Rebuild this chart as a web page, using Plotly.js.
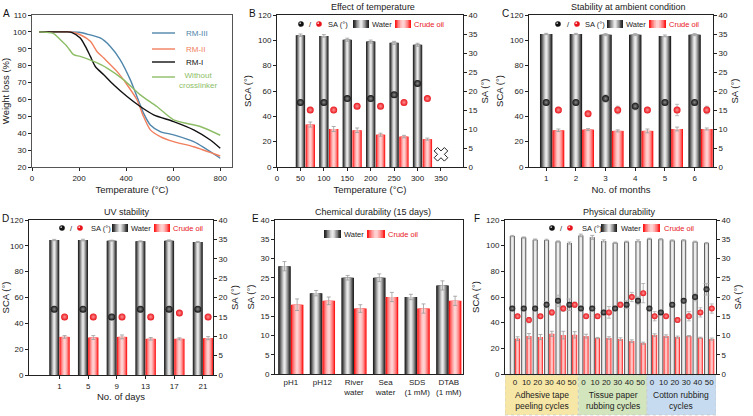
<!DOCTYPE html>
<html><head><meta charset="utf-8">
<script src="https://cdn.plot.ly/plotly-3.0.1.min.js"></script>
<style>html,body{margin:0;padding:0;background:#fff}#chart{width:753px;height:416px}</style>
</head><body><div id="chart"></div>
<script>
// ================= DATA =================
// A: TGA curves
const rm3Temp=[30,100,150,200,234,290,333,375,418,446,474,503,545,602,687,800];
const rm3Loss=[100,100,100,99.8,98.7,96.4,91.4,83.5,71.6,61.7,51.9,44.9,41,39,35,25.2];
const rm2Temp=[30,100,163,205,248,276,305,361,404,446,474,503,545,602,687,800];
const rm2Loss=[100,100,100,98.3,94.4,88.4,84.5,76.6,68.7,59.8,49.9,42,38,35,32,26.5];
const rm1Temp=[30,100,149,170,205,227,248,269,305,347,404,460,517,602,687,758,800];
const rm1Loss=[100,100,100,99.6,96.4,91.4,85.5,79.5,74.6,68.7,61.7,55.8,50.9,46.9,42,36,31.1];
const noxTemp=[30,92,120,149,177,205,262,319,390,460,531,602,715,800];
const noxLoss=[100,99,95.4,91.4,86.5,85.5,82.5,78.6,71.6,62.7,55.8,47.9,44,38.8];
const seriesNamesA=['RM-III','RM-II','RM-I','Without<br>crosslinker'];

// B: effect of temperature
const tempB=[50,100,150,200,250,300];
const waterSCA_B=[104,103.5,100.5,99,98,96.5];
const waterSCAerr_B=[1,1,1.2,1.2,1.2,1.2];
const oilSCA_B=[33.5,30,29,25.5,24,22];
const oilSCAerr_B=[2,2,1.8,1.2,1,0.8];
const waterSA_B=[17,17,18,18,19,22];
const oilSA_B=[15,15,16,16,17,18];
const failTemp_B=[350];
const failSCA_B=[10];

// C: ambient stability
const months=[1,2,3,4,5,6];
const waterSCA_C=[105,105,104.5,104.5,103.5,104.5];
const waterSCAerr_C=[0.5,0.5,0.8,0.8,0.7,0.8];
const oilSCA_C=[29,29.5,28.5,28.5,30,30];
const oilSCAerr_C=[1,0.8,0.8,1.5,1.5,0.8];
const waterSA_C=[17,17,18,16,17,17];
const waterSAerr_C=[0,0,1,1,0,0];
const oilSA_C=[15,14,15,15,15,15];
const oilSAerr_C=[0.5,0.5,1,0.5,1.5,1];

// D: UV stability
const days=['1','5','9','13','17','21'];
const waterSCA_D=[104.5,104.5,104,103.5,104,103];
const waterSCAerr_D=[0.5,0.6,0.4,0.4,0.6,0.4];
const oilSCA_D=[29.5,29,29.5,28,28,28.5];
const oilSCAerr_D=[1,1.5,1.5,1,0.8,1.2];
const waterSA_D=[17,17,15,17,17,17];
const oilSA_D=[15,15,15,15,16,15];

// E: chemical durability
const media=['pH1','pH12','River<br>water','Sea<br>water','SDS<br>(1 mM)','DTAB<br>(1 mM)'];
const waterSA_E=[28,21,25,25,20,23];
const waterSAerr_E=[1.2,0.7,0.6,1,0.7,1.2];
const oilSA_E=[18,19,17,20,17,19];
const oilSAerr_E=[1.5,1,1,1.2,1.2,1.2];

// F: physical durability
const cycles=['0','10','20','30','40','50','0','10','20','30','40','50','0','10','20','30','40','50'];
const groupsF=['Adhesive tape<br>peeling cycles','Tissue paper<br>rubbing cycles','Cotton rubbing<br>cycles'];
const waterSCA_F=[107.5,106.3,104.7,104.5,103.2,102,108,106.5,103.7,102.2,103,103.7,105.3,105,104,104.2,103,102];
const waterSCAerr_F=[0.5,0.5,0.5,0.5,0.5,0.8,1,1.5,0.8,0.5,0.5,0.8,0.5,0.5,0.5,0.5,0.5,0.5];
const oilSCA_F=[27.5,29.5,28.8,31.3,30.3,30.5,29.5,28,28,27.2,25.6,24,30.3,29.5,28.7,29.5,28.2,27.2];
const oilSCAerr_F=[1.5,2,2,2,3,2.5,1.5,0.5,1,1,1,0.8,1,1,0.8,0.5,0.5,0.8];
const waterSA_F=[17,17,17,18,19,18,17,17,16,17,18,19,17,16,18,19,20,22];
const waterSAerr_F=[0.5,0.5,0.5,0.8,1.5,1.5,0.5,0.5,0.5,0.5,1,1,0.3,0.3,0.5,0.5,1,1.5];
const oilSA_F=[15,14,15,16,17,18,15,15,16,18,20,21,15,15,14,15,16,17];
const oilSAerr_F=[0.3,0.7,0.3,0.7,0.7,0.7,0.3,0.3,1.5,0.7,1.2,2.5,1.2,0.3,0.5,1.2,1.2,1.2];

// ================= STYLE / HELPERS =================
const W=753,H=416;
const fx=v=>v/W, fy=v=>1-v/H;
const dom=(a,b)=>[a/W,b/W];
const domY=(top,bot)=>[1-bot/H,1-top/H];
const FONT='Arial, "Liberation Sans", sans-serif';
const RED='#e8141b';
const traces=[],shapes=[],annotations=[];
const waterLayers=[{f:1,c:'#232323'},{f:0.82,c:'#4d4d4d'},{f:0.64,c:'#7e7e7e'},{f:0.46,c:'#ababab'},{f:0.28,c:'#d2d2d2'},{f:0.12,c:'#eaeaea'}];
const oilLayers=[{f:1,c:'#ff1a1a'},{f:0.8,c:'#ff5c5c'},{f:0.6,c:'#ff8d8d'},{f:0.4,c:'#ffb3b3'},{f:0.2,c:'#ffd0d0'}];
const waterLayersThin=[{f:1,c:'#444'},{f:0.7,c:'#bdbdbd'},{f:0.45,c:'#ececec'}];
const oilLayersThin=[{f:1,c:'#f22'},{f:0.7,c:'#ff8a8a'},{f:0.4,c:'#ffc4c4'}];

function addBars(xs,ys,errs,width,layers,xa,ya){
  layers.forEach((L,i)=>{
    const t={type:'bar',x:xs,y:ys,width:width*L.f,xaxis:xa,yaxis:ya,
      marker:{color:L.c,line:{width:0}},showlegend:false,hoverinfo:'skip'};
    if(i===layers.length-1&&errs) t.error_y={type:'data',array:errs,visible:true,color:'#9a9a9a',thickness:0.8,width:2};
    traces.push(t);
  });
}
function addPoints(xs,ys,errs,color,grad,size,xa,ya,errW){
  const t={type:'scatter',mode:'markers',x:xs,y:ys,xaxis:xa,yaxis:ya,
    marker:{color:color,size:size,gradient:{type:'radial',color:grad},line:{width:0}},
    showlegend:false,hoverinfo:'skip'};
  if(errs) t.error_y={type:'data',array:errs,visible:true,color:'#aaaaaa',thickness:0.8,width:errW||2};
  traces.push(t);
}
const shift=(arr,off)=>arr.map(v=>v+off);
const idx=(arr,off)=>arr.map((_,i)=>i+off);

function txt(x,y,t,anchor,size,color,extra){
  return Object.assign({xref:'paper',yref:'paper',x:fx(x),y:fy(y),text:t,showarrow:false,
    xanchor:anchor||'left',yanchor:'middle',font:{family:FONT,size:size||7.5,color:color||'#222'}},extra||{});
}
function circle(cx,cy,r,c){return {type:'circle',xref:'paper',yref:'paper',x0:fx(cx-r),x1:fx(cx+r),y0:fy(cy+r),y1:fy(cy-r),fillcolor:c,line:{width:0}};}
function swatch(x0,x1,y,layers){
  const h=4,mid=(x0+x1)/2,w=x1-x0;
  layers.forEach(L=>shapes.push({type:'rect',xref:'paper',yref:'paper',x0:fx(mid-w*L.f/2),x1:fx(mid+w*L.f/2),y0:fy(y+h),y1:fy(y-h),fillcolor:L.c,line:{width:0}}));
}
function legendRow(sp,wat,oil,y){
  if(sp){
    shapes.push(circle(sp[0],y,2.8,'#111'),circle(sp[2],y,2.8,RED));
    shapes.push(circle(sp[0]-0.8,y-0.8,0.9,'#bbb'),circle(sp[2]-0.8,y-0.8,0.9,'#ffd0d0'));
    annotations.push(txt(sp[1],y,'/','center'),txt(sp[3],y,'SA (°)','left'));
  }
  swatch(wat[0],wat[1],y,waterLayers);
  annotations.push(txt(wat[2],y,'Water','left',7.5,'#222',{borderpad:0}));
  swatch(oil[0],oil[1],y,oilLayers);
  annotations.push(txt(oil[2],y,'Crude oil','left',7.5,RED,{borderpad:0}));
}

const axBase={showline:true,linecolor:'#222',linewidth:1,ticks:'outside',ticklen:3,tickwidth:1,tickcolor:'#222',tickangle:0,
  showgrid:false,zeroline:false,tickfont:{family:FONT,size:8,color:'#222'}};
function ax(o){return Object.assign({},axBase,o);}
function ttl(t,standoff,size){return {text:t,font:{family:FONT,size:size||9.5,color:'#222'},standoff:standoff||3};}

// ================= PANEL A =================
const colA=['#4f86ab','#f17f5e','#111111','#8dbd66'];
[[rm3Temp,rm3Loss],[rm2Temp,rm2Loss],[rm1Temp,rm1Loss],[noxTemp,noxLoss]].forEach((s,i)=>{
  traces.push({type:'scatter',mode:'lines',x:s[0],y:s[1],xaxis:'x',yaxis:'y',
    line:{color:colA[i],width:1.4,shape:'spline',smoothing:0.7},showlegend:false,hoverinfo:'skip'});
});
const legA=[33,49,62,77];
legA.forEach((y,i)=>{
  shapes.push({type:'line',xref:'paper',yref:'paper',x0:fx(152),x1:fx(175),y0:fy(y),y1:fy(y),line:{color:colA[i],width:1.4}});
});
annotations.push(txt(184,33,seriesNamesA[0],'left',8,colA[0]));
annotations.push(txt(184,49,seriesNamesA[1],'left',8,colA[1]));
annotations.push(txt(184,62,seriesNamesA[2],'left',8,colA[2]));
annotations.push(txt(198,80,seriesNamesA[3],'center',8,colA[3]));

// ================= PANEL B =================
addBars(tempB,waterSCA_B,waterSCAerr_B,20,waterLayers,'x2','y2');
addBars(shift(tempB,21),oilSCA_B,oilSCAerr_B,20,oilLayers,'x2','y2');
addPoints(tempB,waterSA_B,null,'#111','#8a8a8a',7,'x2','y3');
addPoints(shift(tempB,21),oilSA_B,null,RED,'#ff9090',7,'x2','y3');
traces.push({type:'scatter',mode:'markers',x:failTemp_B,y:failSCA_B,xaxis:'x2',yaxis:'y2',
  marker:{symbol:'x-open',size:12,color:'#222',line:{color:'#222',width:1}},showlegend:false,hoverinfo:'skip'});
legendRow([301,310,319,326],[353,369,371],[395,411,413],24);

// ================= PANEL C =================
addBars(months,waterSCA_C,waterSCAerr_C,0.42,waterLayers,'x3','y4');
addBars(shift(months,0.41),oilSCA_C,oilSCAerr_C,0.4,oilLayers,'x3','y4');
addPoints(months,waterSA_C,waterSAerr_C,'#111','#8a8a8a',7,'x3','y5');
addPoints(shift(months,0.41),oilSA_C,oilSAerr_C,RED,'#ff9090',7,'x3','y5');
legendRow([558,568,577,583],[607,623,625],[649,666,668],24);

// ================= PANEL D =================
addBars(idx(days,-0.18),waterSCA_D,waterSCAerr_D,0.35,waterLayers,'x4','y6');
addBars(idx(days,0.18),oilSCA_D,oilSCAerr_D,0.36,oilLayers,'x4','y6');
addPoints(idx(days,-0.18),waterSA_D,null,'#111','#8a8a8a',7,'x4','y7');
addPoints(idx(days,0.18),oilSA_D,null,RED,'#ff9090',7,'x4','y7');
legendRow([62,71,80,89],[112,128,130],[154,170,172],228);

// ================= PANEL E =================
addBars(idx(media,-0.2),waterSA_E,waterSAerr_E,0.4,waterLayers,'x5','y8');
addBars(idx(media,0.2),oilSA_E,oilSAerr_E,0.4,oilLayers,'x5','y8');
legendRow(null,[324,341,343],[367,385,387],234);

// ================= PANEL F =================
addBars(idx(cycles,-0.23),waterSCA_F,waterSCAerr_F,0.44,waterLayersThin,'x6','y9');
addBars(idx(cycles,0.23),oilSCA_F,oilSCAerr_F,0.44,oilLayersThin,'x6','y9');
addPoints(idx(cycles,-0.23),waterSA_F,waterSAerr_F,'#111','#8a8a8a',6,'x6','y10',3);
addPoints(idx(cycles,0.23),oilSA_F,oilSAerr_F,RED,'#ff9090',6,'x6','y10');
legendRow([552,561,570,580],[601,617,620],[643,660,663],228);
const bandEdgesF=[-0.87,5.55,11.55,17.6];
const bandColF=['#f7e7a6','#d2e5bd','#c6dbef'];
groupsF.forEach((g,i)=>{
  shapes.push({type:'rect',xref:'x6',yref:'paper',x0:bandEdgesF[i],x1:bandEdgesF[i+1],y0:fy(415),y1:fy(375),
    fillcolor:bandColF[i],line:{color:'#c8c8c8',width:0.8,dash:'dot'},layer:'below'});
  annotations.push({xref:'x6',yref:'paper',x:(bandEdgesF[i]+bandEdgesF[i+1])/2,y:fy(400),text:g,showarrow:false,
    xanchor:'center',yanchor:'middle',font:{family:FONT,size:8.5,color:'#222'}});
});

// ================= TITLES / LETTERS =================
annotations.push(txt(373,7,'Effect of temperature','center',9));
annotations.push(txt(628,7,'Stability at ambient condition','center',9));
annotations.push(txt(127,212,'UV stability','center',9));
annotations.push(txt(373,212,'Chemical durability (15 days)','center',9));
annotations.push(txt(619,212,'Physical durability','center',9));
[['A',1,14],['B',247,14],['C',500,14],['D',0,218],['E',250,218],['F',472,218]].forEach(l=>{
  annotations.push(txt(l[1],l[2],l[0],'left',10,'#111'));
});

// ================= LAYOUT =================
const topY=domY(15,167), botY=domY(220,375), botYE=domY(220,374);
const layout={
  width:753,height:416,margin:{l:0,r:0,t:0,b:0},paper_bgcolor:'#fff',plot_bgcolor:'rgba(0,0,0,0)',
  showlegend:false,barmode:'overlay',font:{family:FONT,color:'#222'},
  xaxis:ax({domain:dom(32,232),anchor:'y',range:[0,850],tick0:0,dtick:200,mirror:true,linecolor:'#555',title:ttl('Temperature (°C)',4)}),
  yaxis:ax({domain:topY,anchor:'x',range:[20,110],dtick:10,mirror:true,linecolor:'#555',title:ttl('Weight loss (%)',4)}),

  xaxis2:ax({domain:dom(277,463),anchor:'y2',range:[0,397],tick0:0,dtick:50,mirror:true,title:ttl('Temperature (°C)',4)}),
  yaxis2:ax({domain:topY,anchor:'x2',range:[0,120],dtick:20,title:ttl('SCA (°)',4)}),
  yaxis3:ax({overlaying:'y2',anchor:'x2',side:'right',range:[0,40],dtick:5,title:ttl('SA (°)',4)}),

  xaxis3:ax({domain:dom(529,713),anchor:'y4',range:[0.42,6.62],tickvals:months,mirror:true,title:ttl('No. of months',4)}),
  yaxis4:ax({domain:topY,anchor:'x3',range:[0,120],dtick:20,title:ttl('SCA (°)',4)}),
  yaxis5:ax({overlaying:'y4',anchor:'x3',side:'right',range:[0,40],dtick:5,title:ttl('SA (°)',4)}),

  xaxis4:ax({domain:dom(29,213),anchor:'y6',range:[-1.06,5.35],tickvals:idx(days,0),ticktext:days,mirror:true,title:ttl('No. of days',3)}),
  yaxis6:ax({domain:botY,anchor:'x4',range:[0,120],dtick:20,title:ttl('SCA (°)',4)}),
  yaxis7:ax({overlaying:'y6',anchor:'x4',side:'right',range:[0,40],dtick:5,title:ttl('SA (°)',4)}),

  xaxis5:ax({domain:dom(275,463),anchor:'y8',range:[-0.5,5.45],tickvals:idx(media,0),ticktext:media,ticks:'',mirror:true}),
  yaxis8:ax({domain:botYE,anchor:'x5',range:[0,40],dtick:5,mirror:true,title:ttl('SA (°)',4)}),

  xaxis6:ax({domain:dom(505,716),anchor:'y9',range:[-0.87,17.6],tickvals:idx(cycles,0),ticktext:cycles,ticks:'',mirror:true}),
  yaxis9:ax({domain:botYE,anchor:'x6',range:[0,120],dtick:20,title:ttl('SCA (°)',4)}),
  yaxis10:ax({overlaying:'y9',anchor:'x6',side:'right',range:[0,40],dtick:5,title:ttl('SA (°)',4)}),

  shapes:shapes,annotations:annotations
};
Plotly.newPlot('chart',traces,layout,{staticPlot:true,displayModeBar:false});
</script>
</body></html>
